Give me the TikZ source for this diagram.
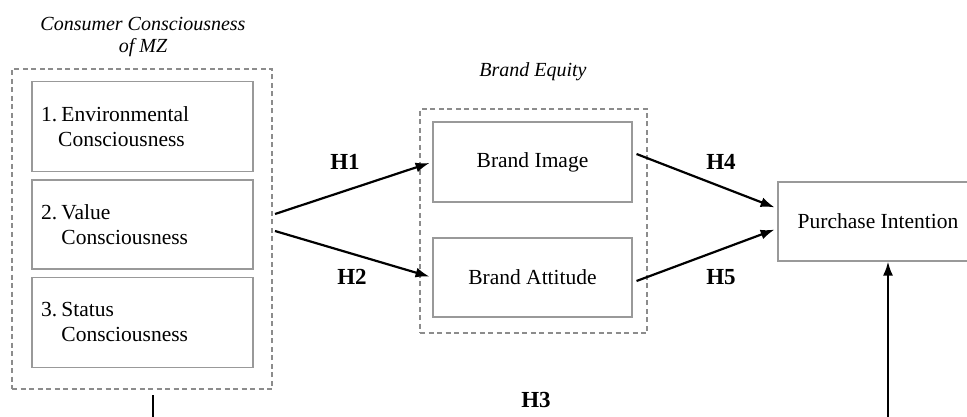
\documentclass[tikz,border=0pt]{standalone}
\usepackage{fontspec}
\setmainfont{Liberation Serif}
\usetikzlibrary{arrows.meta,calc}

\begin{document}
\begin{tikzpicture}[x=1pt,y=-1pt]
            \tikzstyle{box}=[draw=gray!80,line width=1.1pt,minimum width=199pt,minimum height=80pt,inner sep=0pt,font=\fontsize{21.5}{25}\selectfont]
            \tikzstyle{item}=[box,minimum width=221pt,minimum height=90pt,text width=203pt,align=left]
            \tikzstyle{group}=[draw=gray!90,dash pattern=on 5pt off 3.5pt,line width=1.8pt,inner sep=0pt]
            \tikzstyle{title}=[font=\fontsize{20}{21.5}\selectfont\itshape,align=center]
            \tikzstyle{hyp}=[font=\fontsize{23}{24}\selectfont\bfseries]
            \tikzstyle{link}=[line width=2.2pt,-{Latex[length=14pt,width=10pt]}]
            \useasboundingbox (0,0) rectangle (967,417);
            \node[group,minimum width=260pt,minimum height=320pt] (cc) at (142,229) {};
            \node[title] (cctitle) at (143,37) {Consumer Consciousness\\of MZ};
            \node[item] (env) at (142.5,126.5) {1.\hspace{0.2em}Environmental\\\phantom{1.}\hspace{0.05em}Consciousness};
            \node[item,minimum height=89pt] (val) at (142.5,224.5) {2.\hspace{0.2em}Value\\\phantom{2.}\hspace{0.2em}Consciousness};
            \node[item] (sta) at (142.5,322.5) {3.\hspace{0.2em}Status\\\phantom{3.}\hspace{0.2em}Consciousness};
            \node[group,minimum width=227pt,minimum height=224pt] (be) at (533.5,221) {};
            \node[title] (betitle) at (533,72) {Brand Equity};
            \node[box] (img) at (532.5,162) {Brand Image};
            \node[box,minimum height=79pt] (att) at (532.5,277.5) {Brand Attitude};
            \node[box,minimum width=200pt,minimum height=79pt] (pi) at (878,221.5) {Purchase Intention};
            \coordinate (s1) at (275,214);
            \coordinate (s2) at (275,231);
            \draw[link,shorten >=3pt] (s1) -- (img.west);
            \draw[link,shorten >=3pt] (s2) -- (att.west);
            \draw[link,shorten >=3pt] ($(img.east)+(4,-8)$) -- ($(pi.west)+(0,-13)$);
            \draw[link,shorten >=3pt] ($(att.east)+(4,3.5)$) -- ($(pi.west)+(0,7)$);
            \node[hyp] (h1) at (345,162) {H1};
            \node[hyp] (h2) at (352,277) {H2};
            \node[hyp] (h4) at (721,162) {H4};
            \node[hyp] (h5) at (721,277) {H5};
            \node[hyp] (h3) at (536,400) {H3};
            \coordinate (l3) at (153,395);
            \coordinate (b3) at (153,420);
            \coordinate (r3) at (888,420);
            \draw[line width=2.2pt] (l3) -- (b3);
            \draw[link] (r3) -- (r3 |- pi.south);
        \end{tikzpicture}
\end{document}
